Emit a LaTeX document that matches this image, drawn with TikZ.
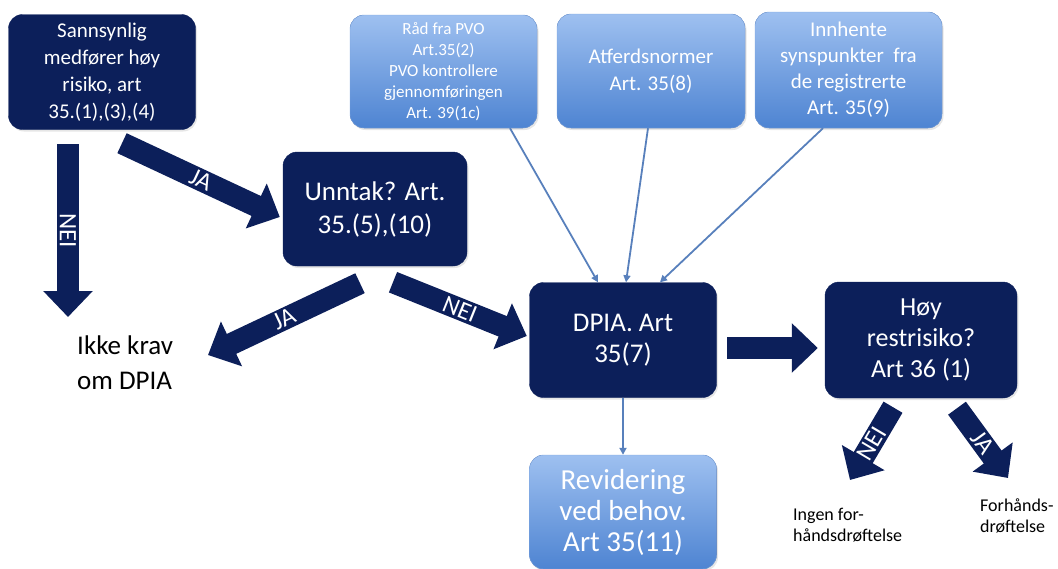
\documentclass[tikz,border=0pt]{standalone}
\usepackage{fontspec}
\setmainfont{Carlito}
\usetikzlibrary{arrows.meta, positioning, shadows}
\definecolor{marine}{RGB}{12,31,90}
\definecolor{lystopp}{RGB}{158,192,240}
\definecolor{lysbunn}{RGB}{78,132,210}
\definecolor{lyskant}{RGB}{125,165,222}
\definecolor{tynnblaa}{RGB}{88,128,188}
\newcommand{\skrift}[2]{\fontsize{#1}{#2}\selectfont}
\tikzset{
  mork/.style={rectangle, rounded corners=14pt, fill=marine, draw=marine,
    text=white, align=center, minimum width=187pt, minimum height=115pt, inner sep=2pt,
    drop shadow={opacity=0.2, shadow xshift=1.5pt, shadow yshift=-2pt}},
  lys/.style={mork, top color=lystopp, bottom color=lysbunn, draw=lyskant},
  fri/.style={align=left, inner sep=0pt, text=black, anchor=north west},
  blokkpil/.style={draw=marine, line width=22pt, -{Triangle[length=26pt, width=48pt]}},
  tynnpil/.style={draw=tynnblaa, line width=1.8pt, -{Triangle[length=7pt, width=7pt]}},
  pilord/.style={midway, sloped, text=white, font=\skrift{25}{25}, inner sep=0pt}
}
\begin{document}
\begin{tikzpicture}[x=1pt, y=-1pt]
  \useasboundingbox (0,0) rectangle (1058,568);
  \node[mork, font=\skrift{21}{27}] (sann) at (102,72) {Sannsynlig\\medfører høy\\risiko, art\\35.(1),(3),(4)};
  \node[mork, font=\skrift{27}{33}, minimum width=184pt, minimum height=114pt] (unntak) at (375,209) {Unntak? Art.\\35.(5),(10)};
  \node[mork, font=\skrift{27}{31}] (dpia) at (623,340) {DPIA. Art\\35(7)};
  \node[mork, font=\skrift{26}{31}, minimum width=192pt, minimum height=116pt] (hoy) at (921,340) {Høy\\restrisiko?\\Art 36 (1)};
  \node[lys, font=\skrift{17}{21}, minimum height=113pt] (rad) at (443.5,71.5) {Råd fra PVO\\Art.35(2)\\PVO kontrollere\\gjennomføringen\\Art. 39(1c)};
  \node[lys, font=\skrift{21}{27}, minimum width=188pt, minimum height=114pt] (atferd) at (651,71) {Atferdsnormer\\Art. 35(8)};
  \node[lys, font=\skrift{21}{26}, minimum height=116pt] (innhente) at (848.5,70) {Innhente\\synspunkter\ \ fra\\de registrerte\\Art. 35(9)};
  \node[lys, font=\skrift{29}{31}, minimum height=114pt] (revid) at (623,512) {Revidering\\ved behov.\\Art 35(11)};
  \node[fri, font=\skrift{27}{35}] (ikke) at (77,336) {Ikke krav\\om DPIA};
  \node[fri, font=\skrift{18}{21}] (ingen) at (793,508) {Ingen for-\\håndsdrøftelse};
  \node[fri, font=\skrift{18}{21}] (forh) at (980,499) {Forhånds-\\drøftelse};
  \draw[blokkpil] ([xshift=-34pt, yshift=-14.5pt]sann.south) -- node[pilord]{NEI} ([xshift=-9pt, yshift=19pt]ikke.north west);
  \draw[blokkpil] ([xshift=20pt, yshift=-13.5pt]sann.south) -- node[pilord]{JA} ([xshift=-3pt, yshift=-8pt]unntak.west);
  \draw[blokkpil] ([xshift=-15pt, yshift=-17pt]unntak.south) -- node[pilord]{JA} ([xshift=131pt, yshift=-19pt]ikke.north west);
  \draw[blokkpil] ([xshift=18pt, yshift=-16pt]unntak.south) -- node[pilord]{NEI} ([xshift=-2.5pt, yshift=4pt]dpia.west);
  \draw[blokkpil] ([xshift=10.5pt, yshift=-8pt]dpia.east) -- ([xshift=-7pt, yshift=-8pt]hoy.west);
  \draw[blokkpil] ([xshift=-28pt, yshift=-9pt]hoy.south) -- node[pilord]{NEI} ([xshift=57pt, yshift=28pt]ingen.north west);
  \draw[blokkpil] ([xshift=36pt, yshift=-10pt]hoy.south) -- node[pilord]{JA} ([xshift=28pt, yshift=21pt]forh.north west);
  \draw[tynnpil] ([xshift=66.5pt]rad.south) -- ([xshift=-25pt]dpia.north);
  \draw[tynnpil] ([xshift=-3pt]atferd.south) -- ([xshift=3pt]dpia.north);
  \draw[tynnpil] ([xshift=-25.5pt]innhente.south) -- ([xshift=37pt]dpia.north);
  \draw[tynnpil] (dpia) -- (revid);
\end{tikzpicture}
\end{document}
